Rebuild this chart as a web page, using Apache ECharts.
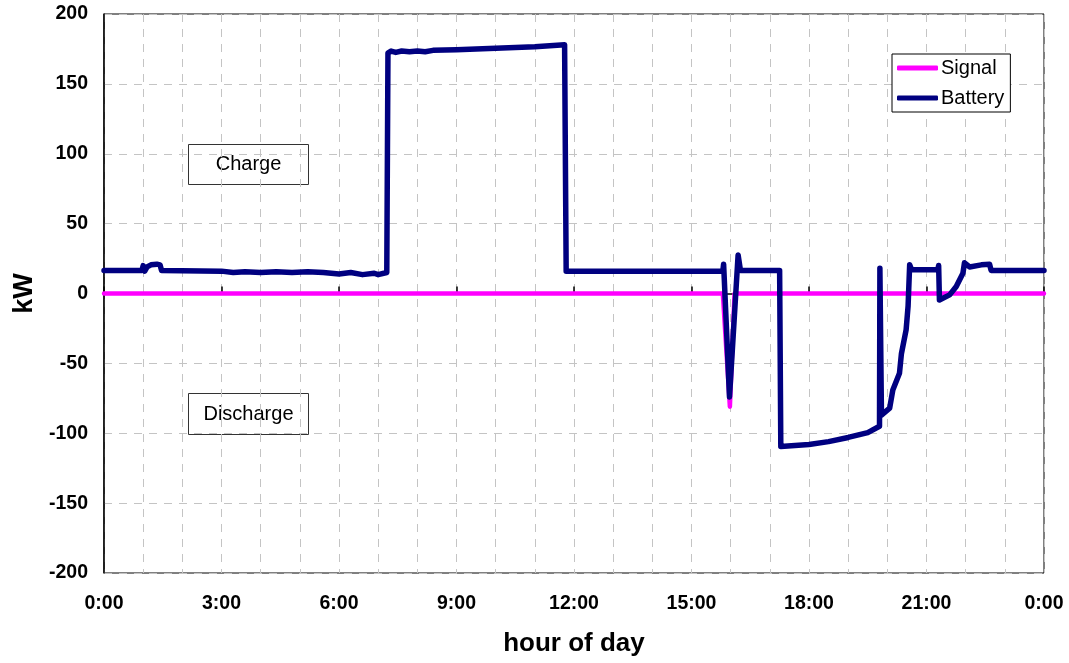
<!DOCTYPE html>
<html>
<head>
<meta charset="utf-8">
<script src="https://cdn.jsdelivr.net/npm/echarts@6/dist/echarts.min.js"></script>
<style>html,body{margin:0;padding:0;background:#fff;}#c{width:1069px;height:663px;}</style>
</head>
<body>
<div id="c"></div>
<script>
// hours of day, kW
const signalTime = [0, 15.80, 15.98, 16.10, 24];
const signalKW   = [0, 0, -81, 0, 0];

const batteryTime = [0, 0.97, 1.00, 1.04, 1.10, 1.20, 1.35, 1.43, 1.47, 3.0, 3.3, 3.6, 4.0, 4.4, 4.8, 5.2, 5.6, 6.0, 6.3, 6.6, 6.9, 7.0, 7.22,
  7.25, 7.33, 7.45, 7.6, 7.8, 8.0, 8.2, 8.4, 9.0, 10.0, 11.0, 11.76,
  11.80, 15.80, 15.82, 15.97, 16.19, 16.25, 17.25,
  17.28, 18.0, 18.5, 19.0, 19.5, 19.80, 19.81, 19.85, 20.06, 20.14, 20.31, 20.36, 20.48, 20.53, 20.57, 20.62,
  21.29, 21.31, 21.33, 21.59, 21.76, 21.93, 21.97, 22.10, 22.40, 22.61, 22.65, 24];
const batteryKW = [16.5, 16.5, 20, 16, 19, 20.5, 21, 20.5, 16.5, 16, 15, 15.5, 15, 15.5, 15, 15.5, 15, 14, 15, 13.5, 14.5, 13.5, 15,
  172, 173.5, 172.5, 173.5, 173, 173.5, 173, 174, 174.5, 175.5, 176.5, 178,
  16, 16, 21, -74, 27.6, 16.5, 16.5,
  -109.5, -108, -106, -103, -99.5, -95, 18, -87, -82, -69, -57, -43, -26, -9, 20.5, 17,
  17, 20, -4.6, -1, 5, 14.5, 22, 19, 20.5, 20.9, 16.5, 16.5];

const xTicks = [0, 3, 6, 9, 12, 15, 18, 21, 24];
const yTicks = [-200, -150, -100, -50, 0, 50, 100, 150, 200];

function pairs(t, v) { return t.map((x, i) => [x, v[i]]); }

const chart = echarts.init(document.getElementById('c'));
const font = 'Liberation Sans, Arial, Helvetica, sans-serif';
const dash = { color: '#c4c4c4', type: [8, 7], width: 1 };

chart.setOption({
  animation: false,
  backgroundColor: '#fff',
  grid: { left: 104, right: 25, top: 14, bottom: 90, show: true, borderColor: '#000', borderWidth: 1, backgroundColor: 'transparent' },
  legend: {
    orient: 'vertical', left: 892, top: 54,
    backgroundColor: '#fff', borderColor: '#000', borderWidth: 1,
    padding: [4, 6, 4, 5], itemGap: 10,
    itemWidth: 41, itemHeight: 5, icon: 'roundRect',
    textStyle: { fontFamily: font, fontSize: 20, color: '#000', lineHeight: 20, padding: [0, 0, 0, -2] },
    data: ['Signal', 'Battery']
  },
  xAxis: {
    type: 'value', min: 0, max: 24, interval: 3,
    name: 'hour of day', nameLocation: 'middle', nameGap: 58,
    nameTextStyle: { fontFamily: font, fontSize: 26, fontWeight: 'bold', color: '#000' },
    axisLine: { show: true, lineStyle: { color: '#000', width: 1.5 } },
    axisTick: { show: true, inside: true, length: 7, lineStyle: { color: '#000', width: 1.5 } },
    minorTick: { show: false, splitNumber: 3 },
    axisLabel: { fontFamily: font, fontSize: 19.5, fontWeight: 'bold', color: '#000', margin: 21,
      formatter: v => (xTicks.includes(v) ? ((v % 24) + ':00') : '') },
    splitLine: { show: true, lineStyle: dash },
    minorSplitLine: { show: true, lineStyle: dash }
  },
  yAxis: {
    type: 'value', min: -200, max: 200, interval: 50,
    name: 'kW', nameLocation: 'middle', nameGap: 66, nameRotate: 90,
    nameTextStyle: { fontFamily: font, fontSize: 27, fontWeight: 'bold', color: '#000' },
    axisLine: { show: true, lineStyle: { color: '#000', width: 1.5 } },
    axisTick: { show: false },
    axisLabel: { fontFamily: font, fontSize: 19.5, fontWeight: 'bold', color: '#000', margin: 16,
      formatter: v => (yTicks.includes(v) ? String(v) : '') },
    splitLine: { show: true, lineStyle: dash }
  },
  series: [
    { name: 'Signal', type: 'line', data: pairs(signalTime, signalKW), showSymbol: false, symbol: 'none',
      color: '#ff00ff', lineStyle: { color: '#ff00ff', width: 4.5, cap: 'round', join: 'round' }, z: 2 },
    { name: 'Battery', type: 'line', data: pairs(batteryTime, batteryKW), showSymbol: false, symbol: 'none',
      color: '#000080', lineStyle: { color: '#000080', width: 5.5, cap: 'round', join: 'round' }, z: 3 }
  ],
  graphic: [
    { type: 'group', left: 188, top: 144, z: 10, children: [
      { type: 'rect', shape: { x: 0, y: 0, width: 120, height: 40 }, style: { fill: '#fff', stroke: '#333', lineWidth: 1 } },
      { type: 'text', x: 60, y: 20, style: { text: 'Charge', fontFamily: font, fontSize: 20, fill: '#000', align: 'center', verticalAlign: 'middle' } }
    ]},
    { type: 'group', left: 188, top: 393, z: 10, children: [
      { type: 'rect', shape: { x: 0, y: 0, width: 120, height: 41 }, style: { fill: '#fff', stroke: '#333', lineWidth: 1 } },
      { type: 'text', x: 60, y: 20.5, style: { text: 'Discharge', fontFamily: font, fontSize: 20, fill: '#000', align: 'center', verticalAlign: 'middle' } }
    ]}
  ]
});
</script>
</body>
</html>
